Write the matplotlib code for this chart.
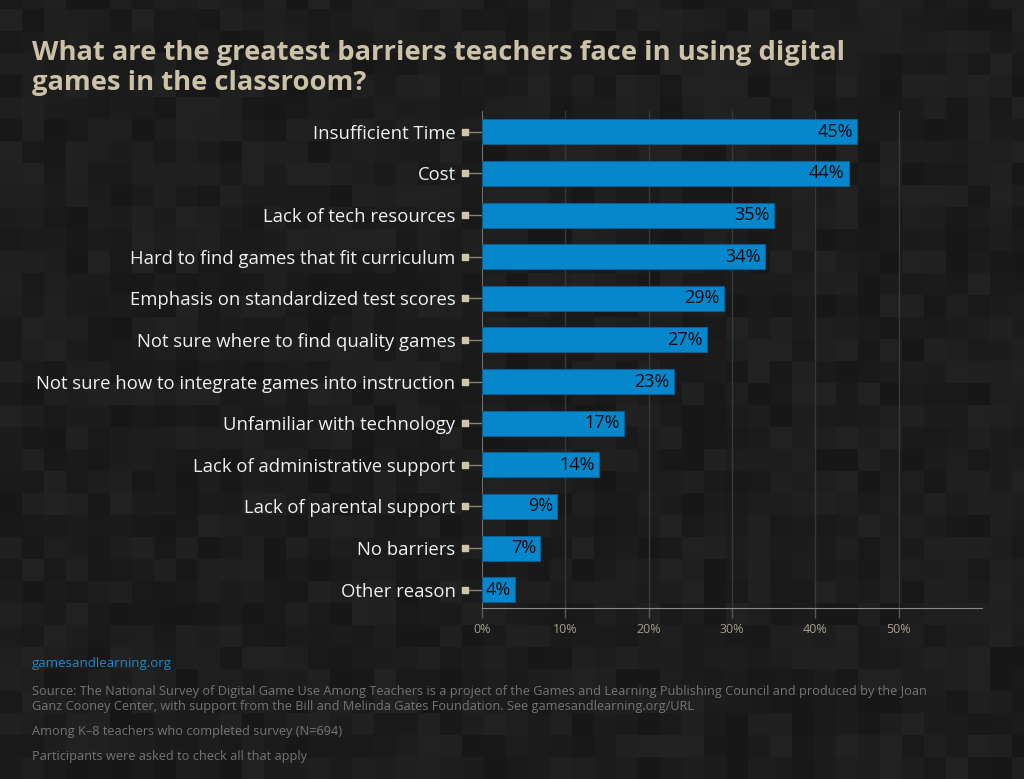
import numpy as np
import matplotlib
matplotlib.use("Agg")
import matplotlib.pyplot as plt
import matplotlib.transforms as mtransforms

categories = [
    "Insufficient Time",
    "Cost",
    "Lack of tech resources",
    "Hard to find games that fit curriculum",
    "Emphasis on standardized test scores",
    "Not sure where to find quality games",
    "Not sure how to integrate games into instruction",
    "Unfamiliar with technology",
    "Lack of administrative support",
    "Lack of parental support",
    "No barriers",
    "Other reason",
]
values = [45, 44, 35, 34, 29, 27, 23, 17, 14, 9, 7, 4]
xticks = [0, 10, 20, 30, 40, 50]
xticklabels = ["0%", "10%", "20%", "30%", "40%", "50%"]

FONT = ["Open Sans", "DejaVu Sans"]
plt.rcParams["font.family"] = FONT

W, H = 1024, 779
fig = plt.figure(figsize=(W / 100, H / 100), dpi=100)
fig.patch.set_facecolor("#1c1c1c")

# background mosaic (decorative texture)
tile = 22
nx, ny = W // tile + 1, H // tile + 1
ii, jj = np.meshgrid(np.arange(ny), np.arange(nx), indexing="ij")
h = (ii * 73856093) ^ (jj * 19349663) ^ ((ii + 3) * (jj + 7) * 83492791)
pat = (h % 1009) / 1008.0
bg = fig.add_axes([0, 0, 1, 1], zorder=-10)
bg.imshow(pat, cmap=matplotlib.colors.LinearSegmentedColormap.from_list(
    "m", ["#171717", "#222222"]), aspect="auto", interpolation="nearest",
    extent=[0, nx * tile / W, 0, ny * tile / H], origin="upper")
bg.set_xlim(0, 1)
bg.set_ylim(0, 1)
bg.axis("off")

left, right, top, bottom = 482 / W, 982 / W, 1 - 111 / H, 1 - 608 / H
ax = fig.add_axes([left, bottom, right - left, top - bottom])
ax.set_facecolor("none")

y = np.arange(len(categories))
ax.barh(y, values, height=0.6, color="#0787cb", edgecolor="#0b5e8e",
        linewidth=0.8, zorder=3)
for yi, v in zip(y, values):
    ax.text(v - 0.5, yi, f"{v}%", ha="right", va="center", fontsize=13,
            color="#0a0a0a", zorder=4)

ax.set_xlim(0, 60)
ax.set_ylim(11.44, -0.5)
ax.set_xticks(xticks)
ax.set_xticklabels(xticklabels, color="#a39d8c", fontsize=9)
ax.set_yticks(y)
ax.set_yticklabels(categories, color="#f0f0f0", fontsize=13.3)
ax.tick_params(axis="y", length=12, width=1, color="#8a8474", pad=7)
ax.tick_params(axis="x", length=7, width=1, color="#5a5a5a", pad=4,
               direction="out")

# square markers at tick ends
trans = mtransforms.blended_transform_factory(ax.transAxes, ax.transData)
ax.scatter([-17 / (right * W - left * W)] * len(y), y, marker="s", s=22,
           color="#cfc5ab", transform=trans, clip_on=False, zorder=5)

for gx in xticks[1:]:
    ax.axvline(gx, color="#383838", linewidth=1, zorder=1)

for s in ["top", "right"]:
    ax.spines[s].set_visible(False)
ax.spines["left"].set_color("#6e6e6e")
ax.spines["bottom"].set_color("#8a8a8a")

fig.text(32 / W, 1 - 90 / H,
         "What are the greatest barriers teachers face in using digital\ngames in the classroom?",
         fontsize=19.7, fontweight="bold", color="#cbc2a8", ha="left",
         va="baseline", linespacing=1.22)

fig.text(32 / W, 1 - 667 / H, "gamesandlearning.org", fontsize=9.5,
         color="#1a8ad0", ha="left", va="baseline")
fig.text(32 / W, 1 - 710 / H,
         "Source: The National Survey of Digital Game Use Among Teachers is a project of the Games and Learning Publishing Council and produced by the Joan\nGanz Cooney Center, with support from the Bill and Melinda Gates Foundation. See gamesandlearning.org/URL",
         fontsize=9.2, color="#747474", ha="left", va="baseline", linespacing=1.25)
fig.text(32 / W, 1 - 735 / H, "Among K\u20138 teachers who completed survey (N=694)",
         fontsize=9.2, color="#747474", ha="left", va="baseline")
fig.text(32 / W, 1 - 760 / H, "Participants were asked to check all that apply",
         fontsize=9.2, color="#747474", ha="left", va="baseline")

fig.savefig("out.png", dpi=100, facecolor=fig.get_facecolor())
